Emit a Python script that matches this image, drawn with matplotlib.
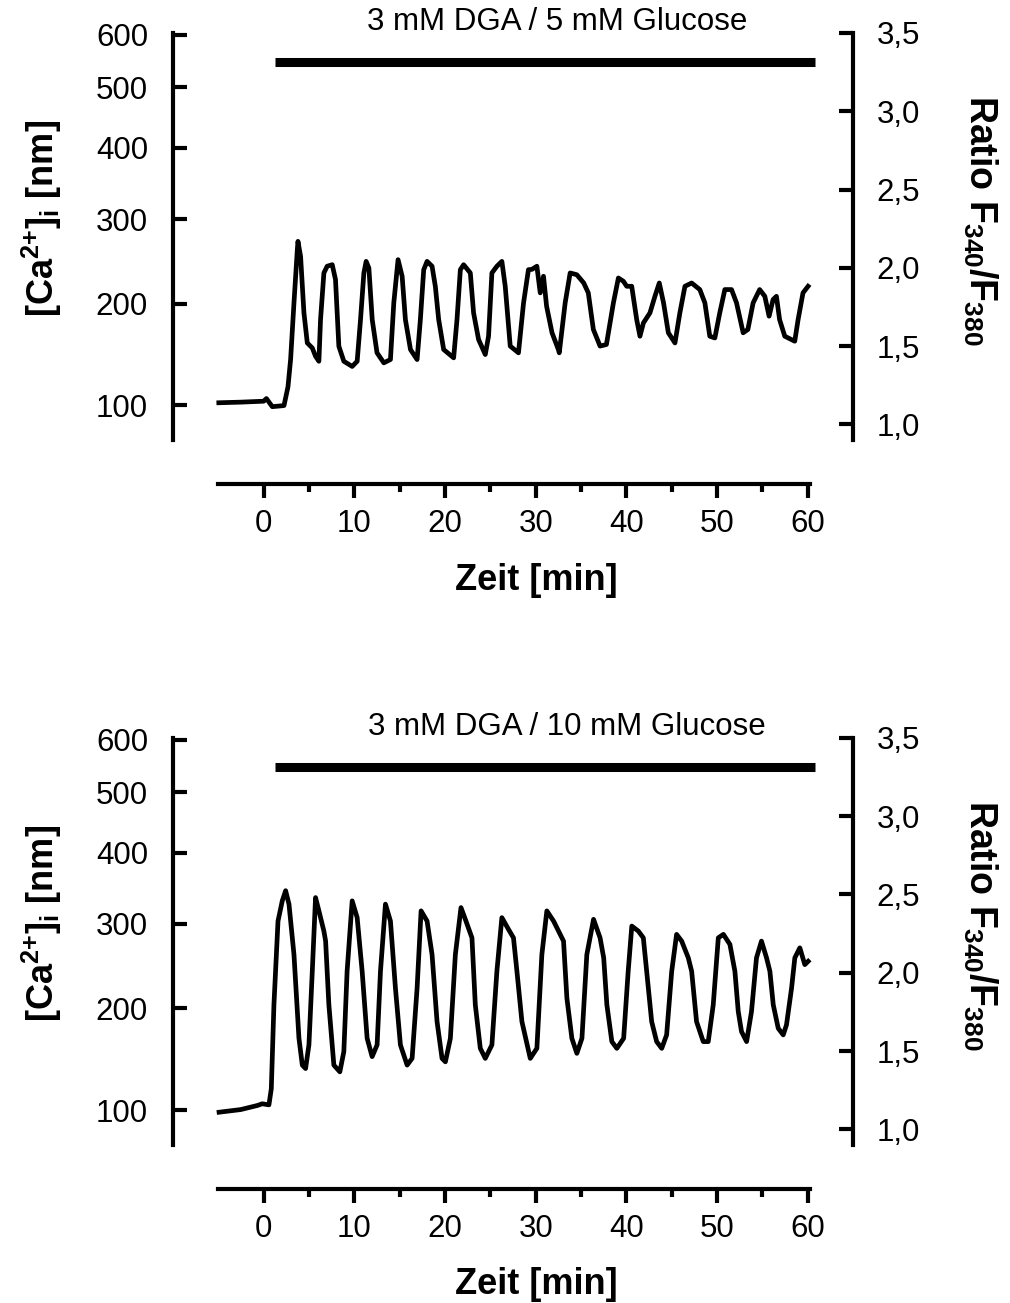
import matplotlib
matplotlib.use("Agg")
import matplotlib.pyplot as plt
import numpy as np

plt.rcParams['font.family'] = ['Liberation Sans', 'DejaVu Sans']
plt.rcParams['mathtext.fontset'] = 'custom'
plt.rcParams['mathtext.rm'] = 'Liberation Sans:bold'
plt.rcParams['mathtext.bf'] = 'Liberation Sans:bold'
plt.rcParams['mathtext.it'] = 'Liberation Sans:bold:italic'
plt.rcParams['mathtext.default'] = 'rm'

# Ratio F340/F380, 3 mM DGA / 5 mM Glucose
t5 = [-4.95, -2.5, 0.0, 0.3, 0.95, 2.24, 2.68, 2.97, 3.34, 3.71,
      3.78, 4.07, 4.44, 4.81, 5.36, 5.72, 6.09, 6.27, 6.64, 7.0,
      7.56, 7.92, 8.29, 8.84, 9.76, 10.31, 10.68, 11.05, 11.3, 11.6,
      11.97, 12.5, 13.25, 13.98, 14.35, 14.82, 15.27, 15.63, 16.19, 16.92,
      17.28, 17.65, 18.02, 18.57, 18.93, 19.3, 19.85, 20.95, 21.32, 21.69,
      22.05, 22.79, 23.15, 23.7, 24.44, 24.8, 25.17, 25.72, 26.27, 26.64,
      27.19, 28.1, 28.66, 29.2, 29.58, 30.13, 30.5, 30.86, 31.2, 31.8,
      32.5, 32.6, 33.25, 33.8, 34.53, 35.3, 35.8, 36.36, 37.1, 37.8,
      38.57, 39.12, 39.67, 40.04, 40.59, 41.14, 41.5, 41.88, 42.6, 43.15,
      43.63, 44.1, 44.63, 45.36, 45.9, 46.46, 47.2, 48.1, 48.66, 49.2,
      49.76, 50.3, 50.86, 51.6, 52.15, 52.88, 53.4, 53.98, 54.7, 55.27,
      55.74, 56.18, 56.55, 56.9, 57.47, 58.57, 58.94, 59.48, 60.04]
r5 = [1.138, 1.142, 1.148, 1.165, 1.113, 1.12, 1.24, 1.415, 1.776, 2.116,
      2.169, 2.073, 1.712, 1.52, 1.488, 1.435, 1.403, 1.669, 1.967, 2.01,
      2.02, 1.925, 1.499, 1.403, 1.37, 1.403, 1.669, 1.967, 2.041, 1.999,
      1.669, 1.457, 1.393, 1.414, 1.776, 2.052, 1.946, 1.669, 1.478, 1.414,
      1.669, 1.988, 2.041, 2.01, 1.882, 1.669, 1.478, 1.425, 1.669, 1.988,
      2.02, 1.967, 1.712, 1.542, 1.446, 1.563, 1.967, 2.01, 2.041, 1.882,
      1.5, 1.457, 1.776, 1.988, 1.99, 2.01, 1.84, 1.946, 1.755, 1.585,
      1.478, 1.457, 1.776, 1.967, 1.956, 1.903, 1.84, 1.606, 1.5, 1.51,
      1.776, 1.935, 1.914, 1.882, 1.882, 1.669, 1.563, 1.648, 1.712, 1.818,
      1.903, 1.776, 1.585, 1.52, 1.712, 1.882, 1.903, 1.861, 1.776, 1.563,
      1.552, 1.712, 1.861, 1.861, 1.776, 1.585, 1.606, 1.776, 1.861, 1.818,
      1.691, 1.797, 1.818, 1.669, 1.563, 1.531, 1.669, 1.84, 1.882]

# Ratio F340/F380, 3 mM DGA / 10 mM Glucose
t10 = [-4.92, -2.53, -0.7, -0.16, 0.58, 0.84, 1.13, 1.58, 2.05, 2.42,
       2.79, 3.34, 3.89, 4.26, 4.62, 4.99, 5.36, 5.72, 6.09, 6.64,
       6.83, 7.19, 7.74, 8.4, 8.84, 9.2, 9.76, 10.31, 10.86, 11.41,
       11.96, 12.51, 12.88, 13.43, 13.98, 14.53, 15.08, 15.82, 16.37, 16.92,
       17.36, 18.02, 18.57, 19.12, 19.67, 20.04, 20.59, 21.14, 21.76, 22.24,
       22.97, 23.34, 23.89, 24.44, 25.17, 25.72, 26.27, 27.0, 27.55, 27.93,
       28.48, 29.4, 30.13, 30.68, 31.23, 31.97, 33.07, 33.44, 33.99, 34.54,
       35.1, 35.64, 36.38, 37.1, 37.5, 37.85, 38.4, 38.95, 39.7, 40.2,
       40.6, 41.32, 41.87, 42.24, 42.79, 43.34, 43.9, 44.44, 45.0, 45.54,
       46.1, 46.83, 47.2, 47.74, 48.48, 49.03, 49.58, 50.14, 50.7, 51.42,
       51.97, 52.34, 52.7, 53.26, 53.8, 54.35, 54.9, 55.46, 55.83, 56.2,
       56.75, 57.3, 57.66, 58.22, 58.58, 59.13, 59.68, 60.05]
r10 = [1.109, 1.126, 1.152, 1.163, 1.156, 1.259, 1.795, 2.33, 2.459, 2.524,
       2.438, 2.116, 1.581, 1.41, 1.388, 1.539, 2.009, 2.48, 2.395, 2.266,
       2.202, 1.795, 1.41, 1.367, 1.496, 2.009, 2.459, 2.352, 2.009, 1.581,
       1.464, 1.539, 2.009, 2.438, 2.33, 1.902, 1.539, 1.41, 1.453, 1.902,
       2.395, 2.33, 2.116, 1.688, 1.453, 1.431, 1.581, 2.116, 2.416, 2.341,
       2.223, 1.795, 1.517, 1.453, 1.539, 2.009, 2.352, 2.277, 2.223, 2.009,
       1.688, 1.453, 1.517, 2.116, 2.395, 2.33, 2.202, 1.838, 1.581, 1.485,
       1.581, 2.116, 2.341, 2.223, 2.095, 1.795, 1.56, 1.517, 1.581, 2.009,
       2.298, 2.266, 2.223, 2.009, 1.688, 1.56, 1.517, 1.603, 2.009, 2.245,
       2.202, 2.095, 2.009, 1.688, 1.56, 1.56, 1.795, 2.223, 2.245, 2.181,
       2.009, 1.752, 1.624, 1.56, 1.752, 2.095, 2.202, 2.095, 2.009, 1.795,
       1.645, 1.603, 1.667, 1.902, 2.095, 2.159, 2.052, 2.073]

# stimulus bar (min) and its height in ratio units
bar_start, bar_end, bar_level = 1.2, 60.8, 3.315

ca_ticks = [100, 200, 300, 400, 500, 600]
ratio_ticks = [1.0, 1.5, 2.0, 2.5, 3.0, 3.5]
ratio_labels = ['1,0', '1,5', '2,0', '2,5', '3,0', '3,5']
time_major = [0, 10, 20, 30, 40, 50, 60]
time_minor = [5, 15, 25, 35, 45, 55]

# calibration Ca = K*(R-Rmin)/(Rmax-R)
K_CAL, R_MIN, R_MAX = 867.5, 0.32, 8.07


def ca_to_ratio(ca):
    ca = np.asarray(ca, dtype=float)
    return (R_MAX * ca + K_CAL * R_MIN) / (ca + K_CAL)


fig = plt.figure(figsize=(10.1, 13.03), dpi=100)


def panel(rect, t, r, title, title_x):
    ax = fig.add_axes(rect)
    ax.plot(t, r, color='black', lw=3.4, solid_joinstyle='round')
    ax.plot([bar_start, bar_end], [bar_level, bar_level], color='black',
            lw=6.5, solid_capstyle='butt')
    ax.set_xlim(-10, 65)
    ax.set_ylim(0.9, 3.5)

    ax.spines['top'].set_visible(False)
    ax.spines['right'].set_visible(False)
    ax.spines['left'].set_linewidth(3)
    ax.spines['bottom'].set_linewidth(3)
    ax.spines['bottom'].set_position(('outward', 32))
    ax.spines['bottom'].set_bounds(-5, 60.3)

    ax.set_yticks(ca_to_ratio(ca_ticks))
    ax.set_yticklabels([str(c) for c in ca_ticks])
    ax.tick_params(axis='y', direction='in', length=10, width=3, pad=18,
                   labelsize=22.5)
    ax.set_xticks(time_major)
    ax.set_xticks(time_minor, minor=True)
    ax.tick_params(axis='x', which='major', direction='out', length=10,
                   width=3, pad=8, labelsize=22.5)
    ax.tick_params(axis='x', which='minor', direction='out', length=6,
                   width=3)

    ax.set_ylabel(r'[Ca$^{2{+}}$]$_{\mathrm{i}}$ [nm]', fontsize=26,
                  fontweight='bold', va='center')
    ax.yaxis.set_label_coords(-0.193, 0.545)
    ax.set_xlabel('Zeit [min]', fontsize=26, fontweight='bold', va='center')
    ax.xaxis.set_label_coords(0.534, -0.344)

    ax2 = ax.twinx()
    ax2.set_ylim(0.9, 3.5)
    for s in ['top', 'left', 'bottom']:
        ax2.spines[s].set_visible(False)
    ax2.spines['right'].set_linewidth(3)
    ax2.set_yticks(ratio_ticks)
    ax2.set_yticklabels(ratio_labels)
    ax2.tick_params(axis='y', direction='in', length=10, width=3, pad=17,
                    labelsize=22.5)
    ax2.set_ylabel('Ratio F$_{340}$/F$_{380}$', fontsize=27,
                   fontweight='bold', rotation=270, va='center')
    ax2.yaxis.set_label_coords(1.187, 0.54)

    ax.text(title_x, 3.57, title, ha='center', va='center', fontsize=22.5,
            clip_on=False)


panel([0.1713, 0.6623, 0.6733, 0.3124], t5, r5,
      '3 mM DGA / 5 mM Glucose', 32.4)
panel([0.1713, 0.1213, 0.6733, 0.3124], t10, r10,
      '3 mM DGA / 10 mM Glucose', 33.4)

fig.savefig('out.png', dpi=100)
